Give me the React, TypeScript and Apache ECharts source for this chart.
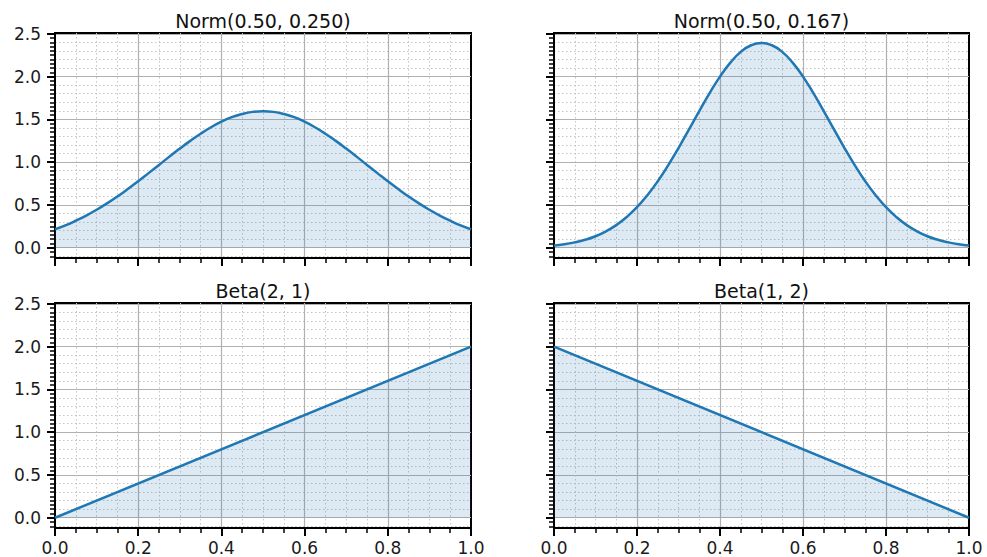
import React, { useEffect, useRef } from "react";
import * as echarts from "echarts";

const titles = ["Norm(0.50, 0.250)", "Norm(0.50, 0.167)", "Beta(2, 1)", "Beta(1, 2)"];

const normX = [
  0, 0.025, 0.05, 0.075, 0.1, 0.125, 0.15, 0.175, 0.2, 0.225, 0.25, 0.275, 0.3, 0.325, 0.35, 0.375, 0.4, 0.425, 0.45, 0.475,
  0.5, 0.525, 0.55, 0.575, 0.6, 0.625, 0.65, 0.675, 0.7, 0.725, 0.75, 0.775, 0.8, 0.825, 0.85, 0.875, 0.9, 0.925, 0.95, 0.975, 1.0,
];
const normWide = [
  0.216, 0.262, 0.316, 0.376, 0.444, 0.518, 0.599, 0.686, 0.777, 0.872, 0.968, 1.065, 1.159, 1.249, 1.333, 1.408, 1.473, 1.526, 1.564, 1.588,
  1.596, 1.588, 1.564, 1.526, 1.473, 1.408, 1.333, 1.249, 1.159, 1.065, 0.968, 0.872, 0.777, 0.686, 0.599, 0.518, 0.444, 0.376, 0.316, 0.262, 0.216,
];
const normNarrow = [
  0.027, 0.041, 0.063, 0.093, 0.134, 0.191, 0.264, 0.358, 0.474, 0.614, 0.777, 0.963, 1.165, 1.38, 1.597, 1.807, 2.0, 2.164, 2.289, 2.367,
  2.394, 2.367, 2.289, 2.164, 2.0, 1.807, 1.597, 1.38, 1.165, 0.963, 0.777, 0.614, 0.474, 0.358, 0.264, 0.191, 0.134, 0.093, 0.063, 0.041, 0.027,
];

const betaX = [0, 1];
const beta21 = [0, 2];
const beta12 = [2, 0];

const xMin = 0;
const xMax = 1;
const xMajorStep = 0.2;
const yMin = -0.12;
const yMax = 2.51;

const yMajorTicks = [0, 0.5, 1, 1.5, 2, 2.5];
const yMinorTicks = [
  -0.1, -0.05, 0, 0.05, 0.1, 0.15, 0.2, 0.25, 0.3, 0.35, 0.4, 0.45, 0.5, 0.55, 0.6, 0.65, 0.7, 0.75, 0.8, 0.85, 0.9, 0.95,
  1.0, 1.05, 1.1, 1.15, 1.2, 1.25, 1.3, 1.35, 1.4, 1.45, 1.5, 1.55, 1.6, 1.65, 1.7, 1.75, 1.8, 1.85, 1.9, 1.95,
  2.0, 2.05, 2.1, 2.15, 2.2, 2.25, 2.3, 2.35, 2.4, 2.45, 2.5,
];
const yMinorGrid = [
  -0.1, 0.1, 0.2, 0.3, 0.4, 0.6, 0.7, 0.8, 0.9, 1.1, 1.2, 1.3, 1.4, 1.6, 1.7, 1.8, 1.9, 2.1, 2.2, 2.3, 2.4,
];

const panels = [
  { x: normX, y: normWide },
  { x: normX, y: normNarrow },
  { x: betaX, y: beta21 },
  { x: betaX, y: beta12 },
];

const FONT = "DejaVu Sans";
const LINE = "#1f77b4";
const FILL = "rgba(31,119,180,0.22)";
const MAJOR_GRID = "#b0b0b0";
const MINOR_GRID = "#c4c4c4";
const DOTS = [1.5, 2.5];

const gridRects = [
  { left: 55, top: 33, width: 416, height: 225 },
  { left: 554, top: 33, width: 415, height: 225 },
  { left: 55, top: 303, width: 416, height: 225 },
  { left: 554, top: 303, width: 415, height: 225 },
];

export default function App() {
  const ref = useRef<HTMLDivElement>(null);

  useEffect(() => {
    if (!ref.current) return;
    const chart = echarts.init(ref.current, null, { renderer: "svg" });

    const grid = gridRects.map((g) => ({
      ...g,
      show: true,
      borderColor: "#000",
      borderWidth: 2,
      backgroundColor: "transparent",
      containLabel: false,
    }));

    const xAxis = gridRects.map((_, i) => ({
      type: "value",
      gridIndex: i,
      min: xMin,
      max: xMax,
      interval: xMajorStep,
      axisLine: { show: true, onZero: false, lineStyle: { color: "#000", width: 2 } },
      axisTick: { show: true, length: 8, lineStyle: { color: "#000", width: 2 } },
      minorTick: { show: true, splitNumber: 4, length: 5, lineStyle: { color: "#000", width: 1.5 } },
      axisLabel: {
        show: i >= 2,
        margin: 11,
        fontSize: 17,
        fontFamily: FONT,
        color: "#1a1a1a",
        formatter: (v: number) => v.toFixed(1),
      },
      splitLine: { show: true, showMinLine: false, showMaxLine: false, lineStyle: { color: MAJOR_GRID, width: 1.2 } },
      minorSplitLine: { show: true, lineStyle: { color: MINOR_GRID, width: 1, type: DOTS } },
    }));

    const yAxis: any[] = [];
    gridRects.forEach((_, i) => {
      // minor dotted grid
      yAxis.push({
        type: "value",
        gridIndex: i,
        min: yMin,
        max: yMax,
        position: "left",
        axisLine: { show: false, onZero: false },
        axisTick: { show: false, customValues: yMinorGrid },
        axisLabel: { show: false, customValues: yMinorGrid },
        splitLine: { show: true, lineStyle: { color: MINOR_GRID, width: 1, type: DOTS } },
      });
      // minor ticks
      yAxis.push({
        type: "value",
        gridIndex: i,
        min: yMin,
        max: yMax,
        position: "left",
        axisLine: { show: false, onZero: false },
        axisTick: { show: true, customValues: yMinorTicks, length: 5, lineStyle: { color: "#000", width: 1.5 } },
        axisLabel: { show: false, customValues: yMinorTicks },
        splitLine: { show: false },
      });
      // main axis
      yAxis.push({
        type: "value",
        gridIndex: i,
        min: yMin,
        max: yMax,
        position: "left",
        axisLine: { show: true, onZero: false, lineStyle: { color: "#000", width: 2 } },
        axisTick: { show: true, customValues: yMajorTicks, length: 8, lineStyle: { color: "#000", width: 2 } },
        axisLabel: {
          show: i % 2 === 0,
          customValues: yMajorTicks,
          margin: 14,
          fontSize: 17,
          fontFamily: FONT,
          color: "#1a1a1a",
          formatter: (v: number) => v.toFixed(1),
        },
        splitLine: { show: true, lineStyle: { color: MAJOR_GRID, width: 1.2 } },
      });
    });

    const series = panels.map((p, i) => ({
      type: "line",
      xAxisIndex: i,
      yAxisIndex: i * 3 + 2,
      data: p.x.map((x, k) => [x, p.y[k]]),
      smooth: p.x.length > 2 ? 0.5 : false,
      symbol: "none",
      lineStyle: { color: LINE, width: 2.5 },
      itemStyle: { color: LINE },
      areaStyle: { color: FILL, origin: "auto" },
      z: 3,
    }));

    const graphic = gridRects.map((g, i) => ({
      type: "text",
      x: g.left + g.width / 2,
      y: g.top - 12,
      style: {
        text: titles[i],
        fill: "#111",
        font: `19px "${FONT}"`,
        align: "center",
        verticalAlign: "middle",
        textAlign: "center",
        textVerticalAlign: "middle",
      },
    }));

    chart.setOption({
      animation: false,
      backgroundColor: "#fff",
      grid,
      xAxis,
      yAxis,
      series,
      graphic,
    });

    return () => chart.dispose();
  }, []);

  return (
    <div
      ref={ref}
      style={{ position: "fixed", left: 0, top: 0, width: 987, height: 557, background: "#fff" }}
    />
  );
}
